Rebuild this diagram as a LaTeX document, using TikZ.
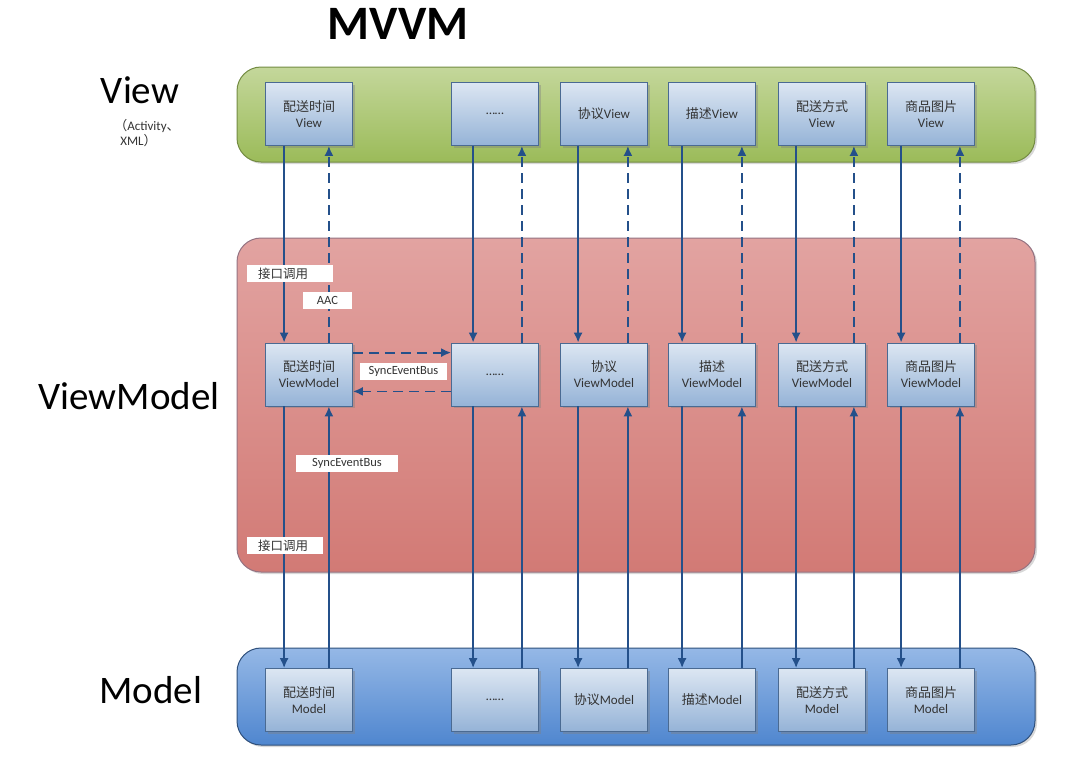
\documentclass[tikz,border=0pt]{standalone}
\usepackage{fontspec}
\setmainfont{Carlito}
\newfontfamily\cjk{Noto Sans CJK SC}
\usetikzlibrary{shadows,arrows.meta}

\definecolor{arrowblue}{HTML}{24508A}
\definecolor{boxline}{HTML}{4A6A92}
\definecolor{boxtop}{HTML}{DCE6F2}
\definecolor{boxbottom}{HTML}{95B3D7}
\definecolor{boxtext}{HTML}{333333}
\definecolor{greentop}{HTML}{C4D79B}
\definecolor{greenbottom}{HTML}{9BBB59}
\definecolor{redtop}{HTML}{E2A3A1}
\definecolor{redbottom}{HTML}{D27A75}
\definecolor{bluetop}{HTML}{95B8E6}
\definecolor{bluebottom}{HTML}{4F86CF}

\begin{document}
\begin{tikzpicture}[x=1pt,y=-1pt,>={Latex[length=10pt,width=9pt]},
	band/.style={draw=#1, line width=1pt, rounded corners=24pt,
		minimum width=798pt, drop shadow={shadow xshift=2pt,shadow yshift=-2pt,opacity=.3}},
	box/.style={draw=boxline, line width=.8pt, top color=boxtop, bottom color=boxbottom,
		minimum width=87pt, minimum height=63pt, align=center, text=boxtext,
		font=\fontsize{13}{16}\selectfont,
		drop shadow={shadow xshift=2pt,shadow yshift=-2pt,opacity=.4}},
	tag/.style={fill=white, inner sep=0pt, minimum height=17pt,
		font=\fontsize{12.5}{14}\selectfont, text=boxtext},
	layer/.style={font=\fontsize{39}{40}\selectfont},
	call/.style={->, arrowblue, line width=1.8pt},
	back/.style={call, dash pattern=on 10pt off 6pt}]

	\useasboundingbox[fill=white] (0,0) rectangle (1080,763);

	% title and layer names
	\node[font=\fontsize{48}{50}\bfseries] (title) at (398,24) {MVVM};
	\node[layer] (viewname) at (140,90) {View};
	\node[font=\fontsize{13}{15}\selectfont, align=left, text=boxtext] (viewnote) at (147,133)
		{{\cjk （}Activity{\cjk 、}\\ \hspace*{6pt}XML{\cjk ）}};
	\node[layer] (vmname) at (129,396) {ViewModel};
	\node[layer] (modelname) at (151,690) {Model};

	% layers
	\node[band=greenbottom!75!black, top color=greentop, bottom color=greenbottom,
		minimum height=95pt] (viewband) at (636,114.5) {};
	\node[band=redbottom!55!boxline, top color=redtop, bottom color=redbottom,
		minimum height=334pt] (vmband) at (636,405) {};
	\node[band=bluebottom!60!black, top color=bluetop, bottom color=bluebottom,
		minimum height=97pt] (modelband) at (636,696.5) {};

	% one column per feature
	\foreach \i/\x/\d/\u/\vt/\vmt/\mt in {
		1/309/19/24/{{\cjk 配送时间}\\View}/{{\cjk 配送时间}\\ViewModel}/{{\cjk 配送时间}\\Model},
		2/495/22/17/{……}/{……}/{……},
		3/604/18/20/{{\cjk 协议}View}/{{\cjk 协议}\\ViewModel}/{{\cjk 协议}Model},
		4/712/14/14/{{\cjk 描述}View}/{{\cjk 描述}\\ViewModel}/{{\cjk 描述}Model},
		5/822/18/12/{{\cjk 配送方式}\\View}/{{\cjk 配送方式}\\ViewModel}/{{\cjk 配送方式}\\Model},
		6/931/14/15/{{\cjk 商品图片}\\View}/{{\cjk 商品图片}\\ViewModel}/{{\cjk 商品图片}\\Model}}
	{
		\node[box] (v\i) at (\x,114) {\vt};
		\node[box] (vm\i) at (\x,374.5) {\vmt};
		\node[box] (m\i) at (\x,700) {\mt};
		\draw[call] ([xshift=\d pt]v\i.south west) -- ([xshift=\d pt]vm\i.north west);
		\draw[back] ([xshift=-\u pt]vm\i.north east) -- ([xshift=-\u pt]v\i.south east);
		\draw[call] ([xshift=\d pt]vm\i.south west) -- ([xshift=\d pt]m\i.north west);
		\draw[call] ([xshift=-\u pt]m\i.north east) -- ([xshift=-\u pt]vm\i.south east);
	}

	% event bus between view models
	\draw[back] ([yshift=-10pt]vm1.north east) -- ([yshift=-10pt]vm2.north west);
	\draw[back] ([yshift=15pt]vm2.south west) -- ([yshift=15pt]vm1.south east);

	% labels
	\node[tag, text width=64pt, inner xsep=11pt, align=left] (callup) at (290,273.5) {\cjk 接口调用};
	\node[tag, minimum width=49pt] (aac) at (327.5,300.5) {AAC};
	\node[tag, minimum width=87pt] (busmid) at (403.5,371.5) {SyncEventBus};
	\node[tag, minimum width=102pt] (buslow) at (347,463) {SyncEventBus};
	\node[tag, text width=54pt, inner xsep=11pt, align=left] (calllow) at (285,545.5) {\cjk 接口调用};

\end{tikzpicture}
\end{document}
